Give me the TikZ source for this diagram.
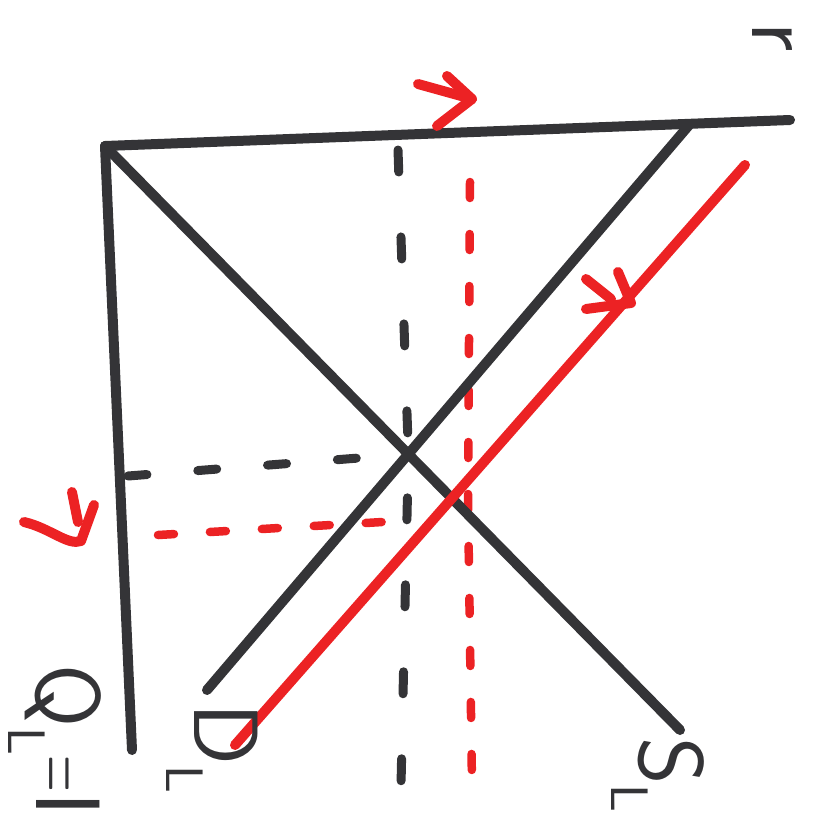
\documentclass[tikz,border=0pt]{standalone}
\usepackage{tikz}
\definecolor{penblack}{RGB}{52,52,55}
\definecolor{penred}{RGB}{236,34,36}
\tikzset{
  pen/.style={line width=1mm, line cap=round, line join=round},
  dashblack/.style={pen, line width=0.9mm, penblack},
  dashred/.style={pen, line width=0.85mm, penred, dash pattern=on 1.6mm off 3.6mm},
  hand/.style={text=penblack, font=\sffamily\fontsize{26}{28}\selectfont, inner sep=0pt, rotate=-90}
}
\newcommand{\sub}[1]{\raisebox{-0.3em}{\fontsize{15}{15}\selectfont #1}}

\begin{document}
\begin{tikzpicture}[x=0.1mm, y=-0.1mm]
\useasboundingbox (0,0) rectangle (831,819);
\coordinate (tl) at (105,146);
\coordinate (tr) at (790,120);
\coordinate (bl) at (132,750);
\coordinate (sEnd) at (680,730);
\coordinate (dLow) at (207,690);
\coordinate (dHigh) at (690,124);
\coordinate (rLow) at (235,745);
\coordinate (rHigh) at (745,165);
\coordinate (eq) at (intersection of tl--sEnd and dLow--dHigh);

\draw[dashblack, dash pattern=on 2.2mm off 6.5mm] (398,150) -- (eq) -- (401,785);
\draw[dashblack, dash pattern=on 1.9mm off 5.1mm] (128,476) -- (eq);
\draw[dashred] (470,182) -- (468,500) -- (472,785);
\draw[dashred] (158,535) -- (400,521);

\draw[pen, penblack] (tl) -- (tr);
\draw[pen, penblack] (tl) -- (bl);
\draw[pen, penblack] (tl) -- (sEnd);
\draw[pen, penblack] (dLow) -- (dHigh);
\draw[pen, penred] (rLow) -- (rHigh);

\draw[pen, penred] (418,84) -- (472,99);
\draw[pen, penred] (447,76) -- (472,99) -- (437,126);
\draw[pen, penred] (586,279) -- (611,299);
\draw[pen, penred] (618,272) -- (631,303) -- (586,309);
\draw[pen, penred] (24,522) .. controls (50,528) and (68,546) .. (81,541) -- (94,505);
\draw[pen, penred] (72,492) -- (78,522);

\node[hand] (rlab) at (772,37) {r};
\node[hand] (qlab) at (55,740) {Q\sub{L}\scalebox{0.55}[1]{=}I};
\node[hand] (dlab) at (212,748) {D\sub{L}};
\node[hand] (slab) at (658,775) {S\sub{L}};
\end{tikzpicture}
\end{document}
